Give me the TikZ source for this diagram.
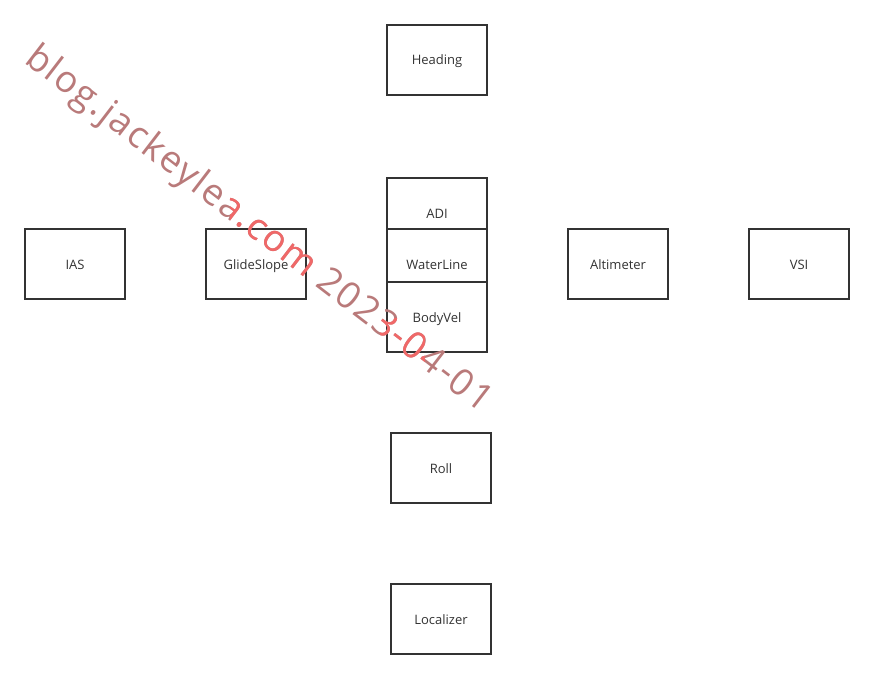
\documentclass[tikz,border=0pt]{standalone}
\usepackage{fontspec}
\setmainfont{Open Sans}
\newfontfamily\stampfont[LetterSpace=5]{Open Sans}
\definecolor{boxline}{HTML}{333333}
\definecolor{stampbrown}{RGB}{185,122,122}
\definecolor{stampred}{RGB}{240,104,104}
\tikzset{
	box/.style={draw=boxline,line width=1.8pt,fill=white,minimum width=100pt,
		minimum height=70pt,inner sep=0pt,text height=11.5pt,text depth=1.5pt,
		text=boxline,font=\fontsize{13}{15}\selectfont},
	stamp/.style={rotate=-37.5,inner sep=0pt,font=\stampfont\fontsize{37}{41}\selectfont}
}
\begin{document}
\begin{tikzpicture}[x=1pt,y=-1pt]
	\useasboundingbox[fill=white] (0,0) rectangle (874,679);

	% Top
	\node[box] (heading) at (437,60) {Heading};

	% Middle row
	\node[box] (ias) at (75,264) {IAS};
	\node[box] (glide) at (256,264) {GlideSlope};
	\node[box] (adi) at (437,213) {ADI};
	\node[box] (water) at (437,264) {WaterLine};
	\node[box] (body) at (437,317) {BodyVel};
	\node[box] (alt) at (618,264) {Altimeter};
	\node[box] (vsi) at (799,264) {VSI};

	% Bottom
	\node[box] (roll) at (441,468) {Roll};
	\node[box] (loc) at (441,619) {Localizer};

	% Watermark
	\node[stamp,text=stampbrown] (wm) at (258,230) {blog.jackeylea.com 2023-04-01};
	\begin{scope}
		\clip (230,188) rectangle (314,300) (380,318) rectangle (424,374);
		\node[stamp,text=stampred] at (258,230) {blog.jackeylea.com 2023-04-01};
	\end{scope}

\end{tikzpicture}
\end{document}
